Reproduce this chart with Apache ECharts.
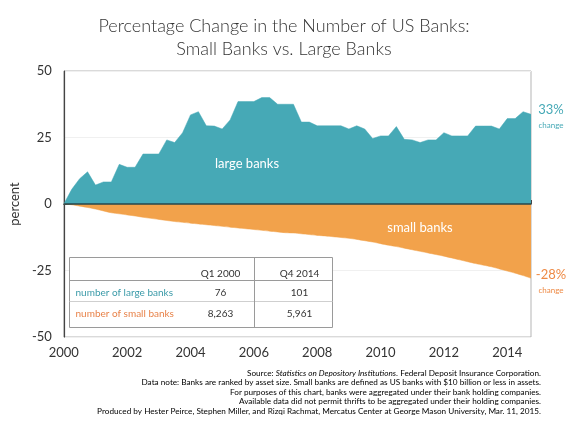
<!DOCTYPE html>
<html>
<head>
<meta charset="utf-8">
<script src="https://cdn.jsdelivr.net/npm/echarts@6/dist/echarts.min.js"></script>
<style>
html, body { margin: 0; padding: 0; background: #fff; }
#container { width: 568px; height: 426px; }
</style>
</head>
<body>
<div id="container"></div>
<script>
// quarterly data, Q1 2000 .. Q4 2014 (percent change since Q1 2000)
var startYear = 2000;
var largeBanks = [0, 5.5, 9.5, 12.1, 7.1, 8.3, 8.3, 14.9, 13.8, 13.8,
    18.8, 18.8, 18.8, 24.1, 23.1, 26.8, 33.5, 34.7, 29.4, 29.3,
    28.2, 31.6, 38.5, 38.5, 38.5, 40, 40, 37.5, 37.5, 37.5,
    30.8, 30.8, 29.4, 29.4, 29.4, 29.4, 28.2, 29.4, 28.2, 24.6,
    25.6, 25.6, 29.1, 24.3, 24.1, 23.1, 24.1, 24.1, 26.8, 25.6,
    25.6, 25.6, 29.3, 29.3, 29.3, 28.2, 32.1, 32.1, 34.7, 33.7];
var smallBanks = [0, -0.3, -0.8, -1.3, -1.9, -2.6, -3.3, -3.7, -4.1, -4.5,
    -5.0, -5.4, -5.8, -6.2, -6.6, -6.9, -7.2, -7.5, -7.8, -8.1,
    -8.4, -8.7, -9.0, -9.3, -9.6, -9.9, -10.2, -10.5, -10.8, -10.9,
    -11.2, -11.5, -11.8, -12.0, -12.3, -12.6, -12.9, -13.3, -13.8, -14.3,
    -14.9, -15.5, -16.0, -16.6, -17.2, -17.8, -18.4, -19.0, -19.6, -20.3,
    -21.0, -21.7, -22.4, -23.0, -23.6, -24.4, -25.2, -26.0, -26.9, -27.9];
var tableHead = ['', 'Q1 2000', 'Q4 2014'];
var tableLarge = ['number of large banks', '76', '101'];
var tableSmall = ['number of small banks', '8,263', '5,961'];
var yTicks = [-50, -25, 0, 25, 50];

var teal = '#46a9b6';
var orange = '#f2a24b';
var font = 'Lato';

function toPairs(arr) {
    var out = [];
    for (var i = 0; i < arr.length; i++) {
        out.push([startYear + i / 4, arr[i]]);
    }
    return out;
}

var myChart = echarts.init(document.getElementById('container'));

var tableGroup = {
    type: 'group',
    left: 67,
    top: 255,
    z: 100,
    children: [
        { type: 'rect', shape: { x: 0, y: 0, width: 263, height: 70 }, style: { fill: '#fff', stroke: '#9a9a9a', lineWidth: 1 }, z: 100 },
        { type: 'line', shape: { x1: 0, y1: 23, x2: 263, y2: 23 }, style: { stroke: '#9a9a9a', lineWidth: 1 }, z: 101 },
        { type: 'line', shape: { x1: 0, y1: 44, x2: 263, y2: 44 }, style: { stroke: '#cfcfcf', lineWidth: 1 }, z: 101 },
        { type: 'line', shape: { x1: 185, y1: 0, x2: 185, y2: 70 }, style: { stroke: '#9a9a9a', lineWidth: 1 }, z: 101 },
        { type: 'text', x: 151, y: 16, z: 102, style: { text: tableHead[1], fill: '#333', font: '10px ' + font, align: 'center', verticalAlign: 'middle' } },
        { type: 'text', x: 230, y: 16, z: 102, style: { text: tableHead[2], fill: '#333', font: '10px ' + font, align: 'center', verticalAlign: 'middle' } },
        { type: 'text', x: 6, y: 35, z: 102, style: { text: tableLarge[0], fill: '#3a9aa8', font: '10px ' + font, verticalAlign: 'middle' } },
        { type: 'text', x: 151, y: 35, z: 102, style: { text: tableLarge[1], fill: '#333', font: '10px ' + font, align: 'center', verticalAlign: 'middle' } },
        { type: 'text', x: 230, y: 35, z: 102, style: { text: tableLarge[2], fill: '#333', font: '10px ' + font, align: 'center', verticalAlign: 'middle' } },
        { type: 'text', x: 6, y: 56, z: 102, style: { text: tableSmall[0], fill: '#e8834a', font: '10px ' + font, verticalAlign: 'middle' } },
        { type: 'text', x: 151, y: 56, z: 102, style: { text: tableSmall[1], fill: '#333', font: '10px ' + font, align: 'center', verticalAlign: 'middle' } },
        { type: 'text', x: 230, y: 56, z: 102, style: { text: tableSmall[2], fill: '#333', font: '10px ' + font, align: 'center', verticalAlign: 'middle' } }
    ]
};

var notes = [
    '{n|Source: }{i|Statistics on Depository Institutions}{n|. Federal Deposit Insurance Corporation.}',
    '{n|Data note: Banks are ranked by asset size. Small banks are defined as US banks with $10 billion or less in assets.}',
    '{n|For purposes of this chart, banks were aggregated under their bank holding companies.}',
    '{n|Available data did not permit thrifts to be aggregated under their holding companies.}',
    '{n|Produced by Hester Peirce, Stephen Miller, and Rizqi Rachmat, Mercatus Center at George Mason University, Mar. 11, 2015.}'
];

var graphics = [
    tableGroup,
    { type: 'text', x: 247, y: 164, z: 100, style: { text: 'large banks', fill: '#fff', font: '13px ' + font, align: 'center', verticalAlign: 'middle' } },
    { type: 'text', x: 420, y: 228, z: 100, style: { text: 'small banks', fill: '#fff', font: '13px ' + font, align: 'center', verticalAlign: 'middle' } },
    { type: 'text', x: 551, y: 110, z: 100, style: { text: '33%', fill: teal, font: '13px ' + font, align: 'center', verticalAlign: 'middle' } },
    { type: 'text', x: 551, y: 125, z: 100, style: { text: 'change', fill: teal, font: '8px ' + font, align: 'center', verticalAlign: 'middle' } },
    { type: 'text', x: 551, y: 275, z: 100, style: { text: '-28%', fill: '#ee8a45', font: '13px ' + font, align: 'center', verticalAlign: 'middle' } },
    { type: 'text', x: 551, y: 290, z: 100, style: { text: 'change', fill: '#ee8a45', font: '8px ' + font, align: 'center', verticalAlign: 'middle' } }
];
for (var k = 0; k < notes.length; k++) {
    graphics.push({
        type: 'text',
        x: 541,
        y: 373 + k * 9.6,
        z: 100,
        style: {
            text: notes[k],
            align: 'right',
            verticalAlign: 'middle',
            rich: {
                n: { fontFamily: font, fontSize: 8.2, color: '#333' },
                i: { fontFamily: font, fontSize: 8.2, fontStyle: 'italic', color: '#333' }
            }
        }
    });
}

option = {
    backgroundColor: '#fff',
    animation: false,
    title: {
        text: 'Percentage Change in the Number of US Banks:\nSmall Banks vs. Large Banks',
        left: 'center',
        top: 10,
        textStyle: {
            fontFamily: font,
            fontWeight: 300,
            fontSize: 18,
            lineHeight: 23,
            color: '#333'
        }
    },
    grid: {
        left: 57,
        right: 37,
        top: 71,
        bottom: 89,
        show: true,
        borderColor: '#b5b5b5',
        borderWidth: 1
    },
    xAxis: {
        type: 'value',
        min: 2000,
        max: 2014.75,
        interval: 2,
        axisLine: { lineStyle: { color: '#444', width: 1.2 } },
        axisTick: { show: true, inside: true, length: 4, lineStyle: { color: '#444' } },
        minorTick: { show: true, splitNumber: 8, length: 4, lineStyle: { color: '#444' } },
        splitLine: { show: false },
        axisLabel: {
            color: '#333',
            fontFamily: font,
            fontSize: 13,
            margin: 9,
            showMaxLabel: false,
            formatter: function (v) { return String(v); }
        }
    },
    yAxis: {
        type: 'value',
        min: yTicks[0],
        max: yTicks[yTicks.length - 1],
        interval: 25,
        name: 'percent',
        nameLocation: 'middle',
        nameGap: 36,
        nameRotate: 90,
        nameTextStyle: { color: '#333', fontFamily: font, fontSize: 13 },
        axisLine: { show: true, lineStyle: { color: '#444', width: 1.2 } },
        axisTick: { show: false },
        splitLine: { show: true, lineStyle: { color: '#f0f0f0' } },
        axisLabel: { color: '#333', fontFamily: font, fontSize: 13, margin: 12 }
    },
    graphic: graphics,
    series: [
        {
            name: 'large banks',
            type: 'line',
            data: toPairs(largeBanks),
            symbol: 'none',
            lineStyle: { width: 0.5, color: teal },
            areaStyle: { color: teal, opacity: 1 },
            z: 3
        },
        {
            name: 'small banks',
            type: 'line',
            data: toPairs(smallBanks),
            symbol: 'none',
            smooth: 0.3,
            lineStyle: { width: 0.5, color: orange },
            areaStyle: { color: orange, opacity: 1 },
            z: 3,
            markLine: {
                silent: true,
                symbol: 'none',
                label: { show: false },
                lineStyle: { color: '#24474c', width: 1.5, type: 'solid' },
                data: [{ yAxis: 0 }]
            }
        }
    ]
};

myChart.setOption(option);
</script>
</body>
</html>
